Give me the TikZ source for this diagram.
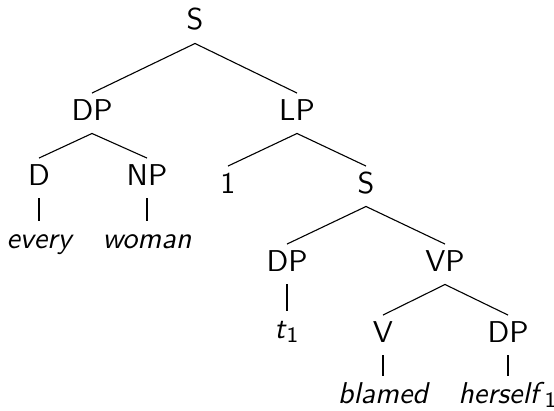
\documentclass[tikz,border=0pt]{standalone}
\usepackage{tikz}

\tikzset{
	cat/.style = {font=\fontsize{10.95}{13.6}\sffamily, anchor=base, inner sep=2.2pt, text height=7.4pt, text depth=2.5pt},
	word/.style = {cat, font=\fontsize{10.95}{13.6}\sffamily\itshape}
}

\begin{document}
\begin{tikzpicture}[x=0.3636pt, y=-0.3636pt]
			\useasboundingbox (0,0) rectangle (554,410);

			\node [cat] (S) at (195,30) {S};
			\node [cat] (DPa) at (92,120) {DP};
			\node [cat] (LP) at (297,120) {LP};
			\node [cat] (D) at (39,185) {D};
			\node [cat] (NP) at (147,185) {NP};
			\node [word] (every) at (39,248) {every};
			\node [word] (woman) at (147,248) {woman};
			\node [cat] (one) at (228,193) {1};
			\node [cat] (Sb) at (366,193) {S};
			\node [cat] (DPb) at (287,271) {DP};
			\node [cat] (VP) at (445,271) {VP};
			\node [cat] (t) at (287,338) {\textit{t}\textsubscript{1}};
			\node [cat] (V) at (383,342) {V};
			\node [cat] (DPc) at (508,342) {DP};
			\node [word] (blamed) at (383,403) {blamed};
			\node [word] (herself) at (508,403) {herself\/\textsubscript{\upshape 1}};

			\draw (S.south) to (DPa.north);
			\draw (S.south) to (LP.north);
			\draw (DPa.south) to (D.north);
			\draw (DPa.south) to (NP.north);
			\draw (D.south) to (every.north);
			\draw (NP.south) to (woman.north);
			\draw (LP.south) to (one.north);
			\draw (LP.south) to (Sb.north);
			\draw (Sb.south) to (DPb.north);
			\draw (Sb.south) to (VP.north);
			\draw (DPb.south) to (t.north);
			\draw (VP.south) to (V.north);
			\draw (VP.south) to (DPc.north);
			\draw (V.south) to (blamed.north);
			\draw (DPc.south) to (herself.north);
		\end{tikzpicture}
\end{document}
